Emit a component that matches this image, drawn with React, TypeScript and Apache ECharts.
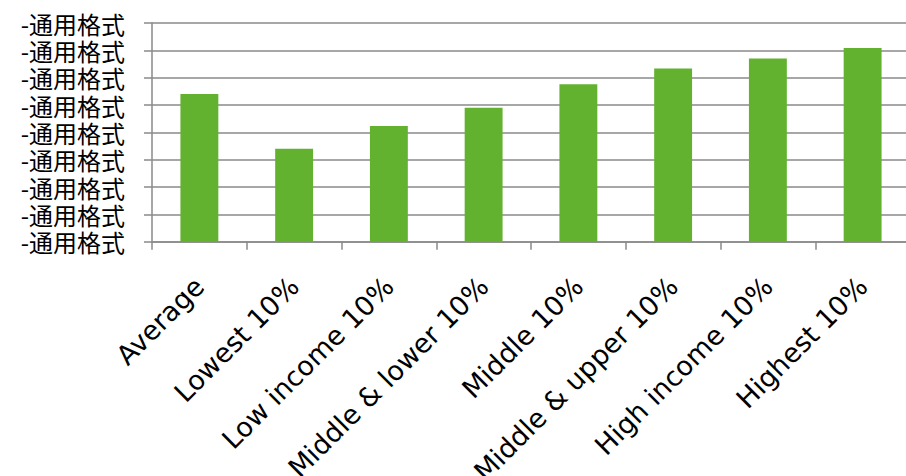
import React, { useEffect, useRef } from "react";
import * as echarts from "echarts";

const categories = [
  "Average",
  "Lowest 10%",
  "Low income 10%",
  "Middle & lower 10%",
  "Middle 10%",
  "Middle & upper 10%",
  "High income 10%",
  "Highest 10%",
];
const values = [5.4, 3.4, 4.23, 4.9, 5.76, 6.34, 6.7, 7.09];
const yTickLabel = "-通用格式";
const yMin = 0;
const yMax = 8;
const yInterval = 1;

export default function App() {
  const ref = useRef<HTMLDivElement>(null);
  useEffect(() => {
    if (!ref.current) return;
    const chart = echarts.init(ref.current, null, { renderer: "svg" });
    const gray = "#8a8a8a";
    chart.setOption({
      animation: false,
      grid: {
        left: 152,
        top: 23,
        width: 758,
        height: 218.7,
        containLabel: false,
        outerBoundsMode: "none",
      },
      xAxis: {
        type: "category",
        data: categories,
        boundaryGap: true,
        axisLine: { show: true, lineStyle: { color: gray, width: 1.5 } },
        axisTick: { show: true, length: 8, lineStyle: { color: gray, width: 1.5 } },
        axisLabel: {
          interval: 0,
          rotate: 45,
          margin: 40,
          align: "right",
          verticalAlign: "middle",
          color: "#000",
          fontFamily: "DejaVu Sans",
          fontSize: 27,
          lineHeight: 30,
        },
      },
      yAxis: {
        type: "value",
        min: yMin,
        max: yMax,
        interval: yInterval,
        axisLine: { show: true, lineStyle: { color: gray, width: 1.5 } },
        axisTick: { show: true, length: 8, lineStyle: { color: gray, width: 1.5 } },
        splitLine: { show: true, lineStyle: { color: gray, width: 1.5 } },
        axisLabel: {
          formatter: () => yTickLabel,
          margin: 27,
          color: "#000",
          fontFamily: "Noto Sans CJK JP",
          fontSize: 24,
          lineHeight: 26,
        },
      },
      series: [
        {
          type: "bar",
          data: values,
          barWidth: "40%",
          itemStyle: { color: "#62b22f" },
        },
      ],
    });
    return () => chart.dispose();
  }, []);
  return (
    <div
      ref={ref}
      style={{ position: "fixed", left: 0, top: 0, width: 906, height: 476, background: "#fff" }}
    />
  );
}
